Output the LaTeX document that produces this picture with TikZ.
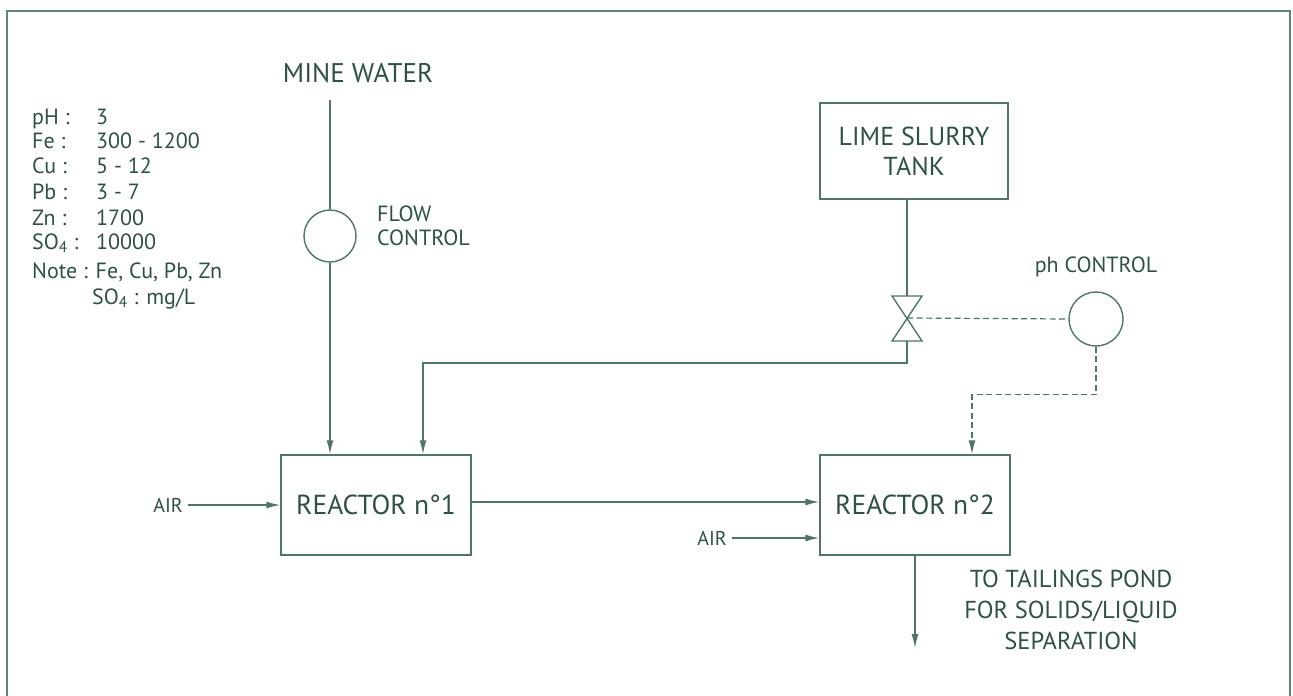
\documentclass[tikz,border=0pt]{standalone}
\usepackage{fontspec}
\setmainfont{PT Sans}
\usetikzlibrary{arrows.meta}
\definecolor{ln}{HTML}{4F7566}
\definecolor{tx}{HTML}{2F5044}
\definecolor{fr}{HTML}{5E857A}
\begin{document}
\begin{tikzpicture}[x=1pt,y=-1pt,
  line/.style={draw=ln, line width=1.4pt},
  arr/.style={line, -{Latex[length=14pt,width=7pt]}},
  dsh/.style={line, line width=1.2pt, dash pattern=on 6pt off 3.5pt},
  box/.style={draw=ln, line width=1.4pt, minimum width=190pt, minimum height=100pt, text=tx, font=\fontsize{27.5}{30}\selectfont},
  lbl/.style={text=tx, inner sep=0pt},
  ctl/.style={circle, draw=ln, line width=1.4pt, inner sep=0pt},
  dat/.style={text=tx, inner sep=0pt, anchor=base west, font=\fontsize{22}{24}\selectfont},
]
\useasboundingbox (0,0) rectangle (1293,696);
\fill[white] (0,0) rectangle (1293,696);
\draw[fr, line width=1.6pt] (7,696) -- (7,11) -- (1290,11) -- (1290,696);

% data
\node[dat] (l1) at (32,124) {pH :};   \node[dat] (v1) at (96,124) {3};
\node[dat] (l2) at (32,148) {Fe :};   \node[dat] (v2) at (96,148) {300 - 1200};
\node[dat] (l3) at (32,173) {Cu :};   \node[dat] (v3) at (96,173) {5 - 12};
\node[dat] (l4) at (32,199) {Pb :};   \node[dat] (v4) at (96,199) {3 - 7};
\node[dat] (l5) at (32,225) {Zn :};   \node[dat] (v5) at (96,225) {1700};
\node[dat] (l6) at (32,249) {SO\textsubscript{4} :}; \node[dat] (v6) at (96,249) {10000};
\node[dat] (l7) at (32,278) {Note : Fe, Cu, Pb, Zn};
\node[dat] (v8) at (92,304) {SO\textsubscript{4} : mg/L};

% main boxes
\node[box] (r1) at (376,505) {REACTOR n°1};
\node[box] (r2) at (915,505) {REACTOR n°2};
\node[box, minimum width=188pt, minimum height=96pt, align=center, font=\fontsize{26}{30}\selectfont] (tank) at (914,151) {LIME SLURRY\\TANK};

% mine water
\node[lbl, font=\fontsize{27}{30}\selectfont] (mw) at (358,73) {MINE WATER};
\coordinate (mwl) at (330,100);
\node[ctl, minimum size=52pt] (fc) at (330,236) {};
\node[lbl, anchor=west, align=left, font=\fontsize{22}{24}\selectfont] (fct) at (377,226) {FLOW\\CONTROL};
\draw[line] (mwl) -- (fc.north);
\draw[arr] (fc.south) -- (fc.south |- r1.north);

% valve
\coordinate (v) at (907,318);
\coordinate (vt) at (907,296);
\coordinate (vb) at (907,341);
\draw[line, fill=white] (892,296) -- (922,296) -- (892,341) -- (922,341) -- cycle;
\draw[line] (tank.south -| vt) -- (vt);
\draw[arr] (vb) -- ++(0,22) -| ([xshift=47pt]r1.north);

% ph control
\node[ctl, minimum size=54pt] (ph) at (1096,319) {};
\node[lbl, font=\fontsize{22}{24}\selectfont] (pht) at (1096,267) {ph CONTROL};
\draw[dsh] (v) -- (ph.west);
\draw[dsh, -{Latex[length=14pt,width=7pt]}] (ph.south) -- ++(0,48) -| ([xshift=57pt]r2.north);

% air
\node[lbl, anchor=east, font=\fontsize{20}{22}\selectfont] (air1) at (183,505) {AIR};
\draw[arr] ([xshift=5pt]air1.east) -- (r1.west);
\node[lbl, anchor=east, font=\fontsize{20}{22}\selectfont] (air2) at (727,538) {AIR};
\draw[arr] ([xshift=5pt]air2.east) -- (air2.east -| r2.west);

\draw[arr] ([yshift=3pt]r1.east) -- ([yshift=3pt]r2.west);

% out
\coordinate (out) at (915,648);
\draw[arr] (r2.south) -- (out);
\node[lbl, align=center, font=\fontsize{24.5}{31}\selectfont] (tail) at (1071,610) {TO TAILINGS POND\\FOR SOLIDS/LIQUID\\SEPARATION};
\end{tikzpicture}
\end{document}
